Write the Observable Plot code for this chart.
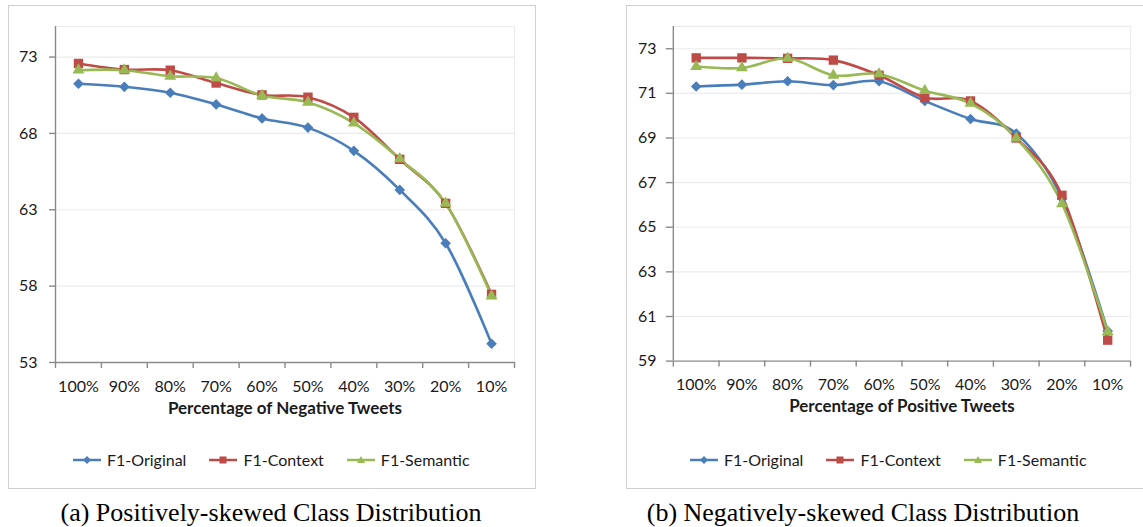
<!DOCTYPE html>
<html>
<head>
<meta charset="utf-8">
<script src="https://cdn.jsdelivr.net/npm/d3@7"></script>
<script src="https://cdn.jsdelivr.net/npm/@observablehq/plot@0.6"></script>
<style>
  html, body { margin: 0; padding: 0; background: #fff; }
  body { width: 1143px; height: 527px; position: relative; overflow: hidden; font-family: Lato, sans-serif; }
  .box { position: absolute; border: 1px solid #cfcfcf; box-sizing: border-box; background: #fff; }
  .chart { position: absolute; }
  .legend { position: absolute; display: flex; align-items: center; gap: 23px; font-family: Lato, sans-serif; font-size: 16px; color: #1a1a1a; white-space: nowrap; }
  .legend .item { display: flex; align-items: center; }
  .legend svg { margin-right: 6px; overflow: visible; }
  .caption { position: absolute; font-family: "Liberation Serif", "Times New Roman", serif; font-size: 26px; line-height: 30px; color: #000; white-space: nowrap; transform: translateX(-50%); }
</style>
</head>
<body>
<div class="box" style="left:8px;top:5px;width:528px;height:484px;"></div>
<div class="box" style="left:626px;top:5px;width:530px;height:484px;"></div>
<div id="c1" class="chart" style="left:8px;top:5px;"></div>
<div id="c2" class="chart" style="left:626px;top:5px;"></div>
<div id="l1" class="legend" style="left:73px;top:450px;"></div>
<div id="l2" class="legend" style="left:690px;top:450px;"></div>
<div class="caption" style="left:271px;top:498px;">(a) Positively-skewed Class Distribution</div>
<div class="caption" style="left:863px;top:498px;">(b) Negatively-skewed Class Distribution</div>
<script>
const categories = ["100%", "90%", "80%", "70%", "60%", "50%", "40%", "30%", "20%", "10%"];
const seriesNames = ["F1-Original", "F1-Context", "F1-Semantic"];
const seriesColors = ["#4A7EBB", "#BE4B48", "#98B954"];

// (a) Percentage of Negative Tweets
const negOriginal = [71.25, 71.05, 70.66, 69.90, 68.98, 68.38, 66.86, 64.30, 60.81, 54.23];
const negContext  = [72.58, 72.18, 72.14, 71.30, 70.52, 70.37, 69.05, 66.30, 63.42, 57.46];
const negSemantic = [72.14, 72.14, 71.74, 71.63, 70.48, 70.04, 68.67, 66.33, 63.42, 57.35];
const negTicks = [53, 58, 63, 68, 73];
const negDomain = [53, 75];

// (b) Percentage of Positive Tweets
const posOriginal = [71.31, 71.39, 71.54, 71.37, 71.54, 70.66, 69.85, 69.20, 66.30, 60.35];
const posContext  = [72.59, 72.59, 72.57, 72.49, 71.81, 70.81, 70.66, 69.00, 66.43, 59.94];
const posSemantic = [72.20, 72.14, 72.57, 71.81, 71.87, 71.12, 70.55, 69.00, 66.05, 60.31];
const posTicks = [59, 61, 63, 65, 67, 69, 71, 73];
const posDomain = [59, 74];

const markerSpec = {
  "F1-Original": {symbol: "diamond2", r: 4.8},
  "F1-Context": {symbol: "square", r: 5.3},
  "F1-Semantic": {symbol: "triangle", r: 4.4}
};

function makeChart({values, ticks, domain, title, width, marginRight, tickSize, tickPadding}) {
  const rows = [];
  values.forEach((arr, si) => arr.forEach((v, i) => rows.push({i, v, s: seriesNames[si]})));
  const axisColor = "#8a8a8a";
  const grid = "#ebebeb";
  return Plot.plot({
    width, height: 416,
    marginLeft: 47, marginRight, marginTop: 21, marginBottom: 59,
    x: {type: "linear", domain: [-0.5, 9.5]},
    y: {type: "linear", domain},
    color: {domain: seriesNames, range: seriesColors},
    symbol: {type: "identity"},
    style: {fontFamily: "Lato, sans-serif", fontSize: "15px", color: "#1a1a1a", background: "transparent", overflow: "visible"},
    marks: [
      Plot.gridY(ticks.filter(t => t > domain[0]), {stroke: grid, strokeOpacity: 1, strokeWidth: 1.2}),
      Plot.ruleY([domain[1]], {stroke: grid, strokeWidth: 1.2}),
      Plot.ruleX([9.5], {stroke: grid, strokeWidth: 1.2}),
      Plot.ruleY([domain[0]], {stroke: axisColor, strokeWidth: 1.4}),
      Plot.ruleX([-0.5], {stroke: axisColor, strokeWidth: 1.4}),
      Plot.axisX(d3.range(11).map(i => i - 0.5), {tickSize: 6, tickFormat: () => "", stroke: axisColor, strokeWidth: 1.4, label: null}),
      Plot.axisX(d3.range(10), {tickSize: 0, tickPadding: 18, tickFormat: i => categories[i], fontSize: 16, label: null}),
      Plot.axisY(ticks, {tickSize, tickPadding, stroke: axisColor, strokeWidth: 1.4, fontSize: 16, label: null}),
      Plot.text([title], {frameAnchor: "bottom", dy: 51, text: d => d, fontWeight: "bold", fontSize: 17, fill: "#1a1a1a"}),
      Plot.line(rows, {x: "i", y: "v", z: "s", stroke: "s", strokeWidth: 2.6, curve: "cardinal"}),
      ...seriesNames.map(name => Plot.dot(rows.filter(d => d.s === name), {
        x: "i", y: "v", fill: "s", stroke: null, symbol: () => markerSpec[name].symbol, r: markerSpec[name].r
      }))
    ]
  });
}

document.getElementById("c1").append(makeChart({
  values: [negOriginal, negContext, negSemantic], ticks: negTicks, domain: negDomain,
  title: "Percentage of Negative Tweets", width: 527, marginRight: 21, tickSize: 6, tickPadding: 12
}));
document.getElementById("c2").append(makeChart({
  values: [posOriginal, posContext, posSemantic], ticks: posTicks, domain: posDomain,
  title: "Percentage of Positive Tweets", width: 519, marginRight: 13, tickSize: 7, tickPadding: 10
}));

function legendMarker(name, color) {
  const c = 14, y = 6;
  if (name === "F1-Original") return `<path d="M${c},${y-4} L${c+4},${y} L${c},${y+4} L${c-4},${y} Z" fill="${color}"/>`;
  if (name === "F1-Context") return `<rect x="${c-3.5}" y="${y-3.5}" width="7" height="7" fill="${color}"/>`;
  return `<path d="M${c},${y-4} L${c+4},${y+3} L${c-4},${y+3} Z" fill="${color}"/>`;
}
function makeLegend(el) {
  el.innerHTML = seriesNames.map((name, i) =>
    `<div class="item"><svg width="28" height="12"><line x1="0" x2="28" y1="6" y2="6" stroke="${seriesColors[i]}" stroke-width="2.5"/>${legendMarker(name, seriesColors[i])}</svg><span>${name}</span></div>`
  ).join("");
}
makeLegend(document.getElementById("l1"));
makeLegend(document.getElementById("l2"));
</script>
</body>
</html>
